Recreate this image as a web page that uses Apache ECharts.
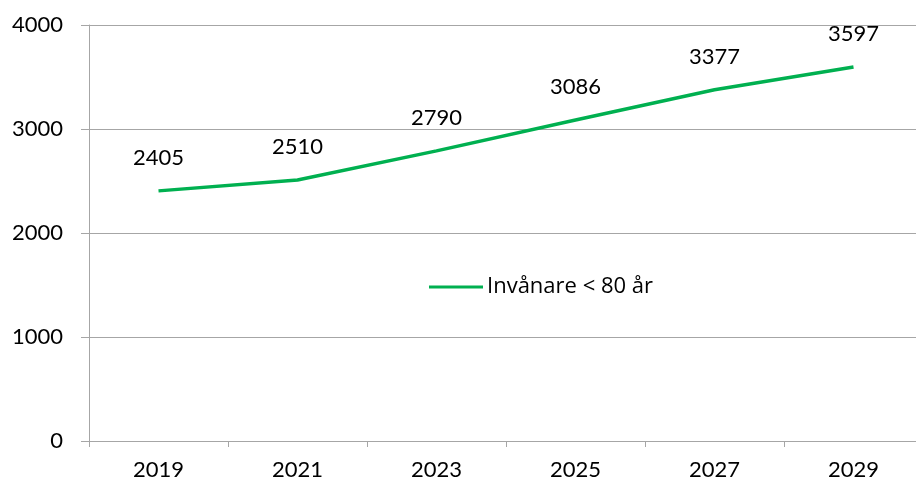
<!DOCTYPE html>
<html>
<head>
<meta charset="utf-8">
<script src="https://cdn.jsdelivr.net/npm/echarts@6/dist/echarts.min.js"></script>
<style>
  html, body { margin: 0; padding: 0; background: #fff; overflow: hidden; }
  #wrap { width: 916px; height: 486px; overflow: hidden; }
  #chart { width: 923px; height: 486px; }
</style>
</head>
<body>
<div id="wrap"><div id="chart"></div></div>
<script>
const years = ['2019', '2021', '2023', '2025', '2027', '2029'];
const residentsUnder80 = [2405, 2510, 2790, 3086, 3377, 3597];
const seriesName = 'Invånare < 80 år';

const font = 'Lato, "Open Sans", sans-serif';
const axisGray = '#a6a6a6';

// chart is a bit wider than the window: the last category cell is cut off on the right, as in the original
const chart = echarts.init(document.getElementById('chart'), null, { renderer: 'canvas' });

chart.setOption({
  animation: false,
  grid: { left: 89, right: 0, top: 25, bottom: 45 },
  legend: {
    data: [seriesName],
    left: 424,
    top: 271,
    icon: 'rect',
    itemWidth: 54,
    itemHeight: 3,
    itemGap: 5,
    textStyle: { fontFamily: '"Open Sans", sans-serif', fontSize: 22, color: '#000', padding: [0, 0, 0, -1] }
  },
  xAxis: {
    type: 'category',
    data: years,
    boundaryGap: true,
    axisLine: { lineStyle: { color: axisGray, width: 1 } },
    axisTick: { show: true, length: 6, lineStyle: { color: axisGray } },
    axisLabel: { fontFamily: font, fontSize: 22, color: '#000', margin: 18 }
  },
  yAxis: {
    type: 'value',
    min: 0,
    max: 4000,
    interval: 1000,
    axisLine: { show: true, lineStyle: { color: axisGray, width: 1 } },
    axisTick: { show: true, length: 8, lineStyle: { color: axisGray } },
    axisLabel: { fontFamily: font, fontSize: 22, color: '#000', margin: 26, formatter: v => String(v) },
    splitLine: { lineStyle: { color: axisGray, width: 1 } }
  },
  series: [{
    name: seriesName,
    type: 'line',
    data: residentsUnder80,
    symbol: 'circle',
    symbolSize: 0,
    showSymbol: true,
    lineStyle: { color: '#00b050', width: 3.5 },
    itemStyle: { color: '#00b050' },
    label: {
      show: true,
      position: 'top',
      distance: 22,
      fontFamily: font,
      fontSize: 22,
      color: '#000'
    }
  }]
});
</script>
</body>
</html>
